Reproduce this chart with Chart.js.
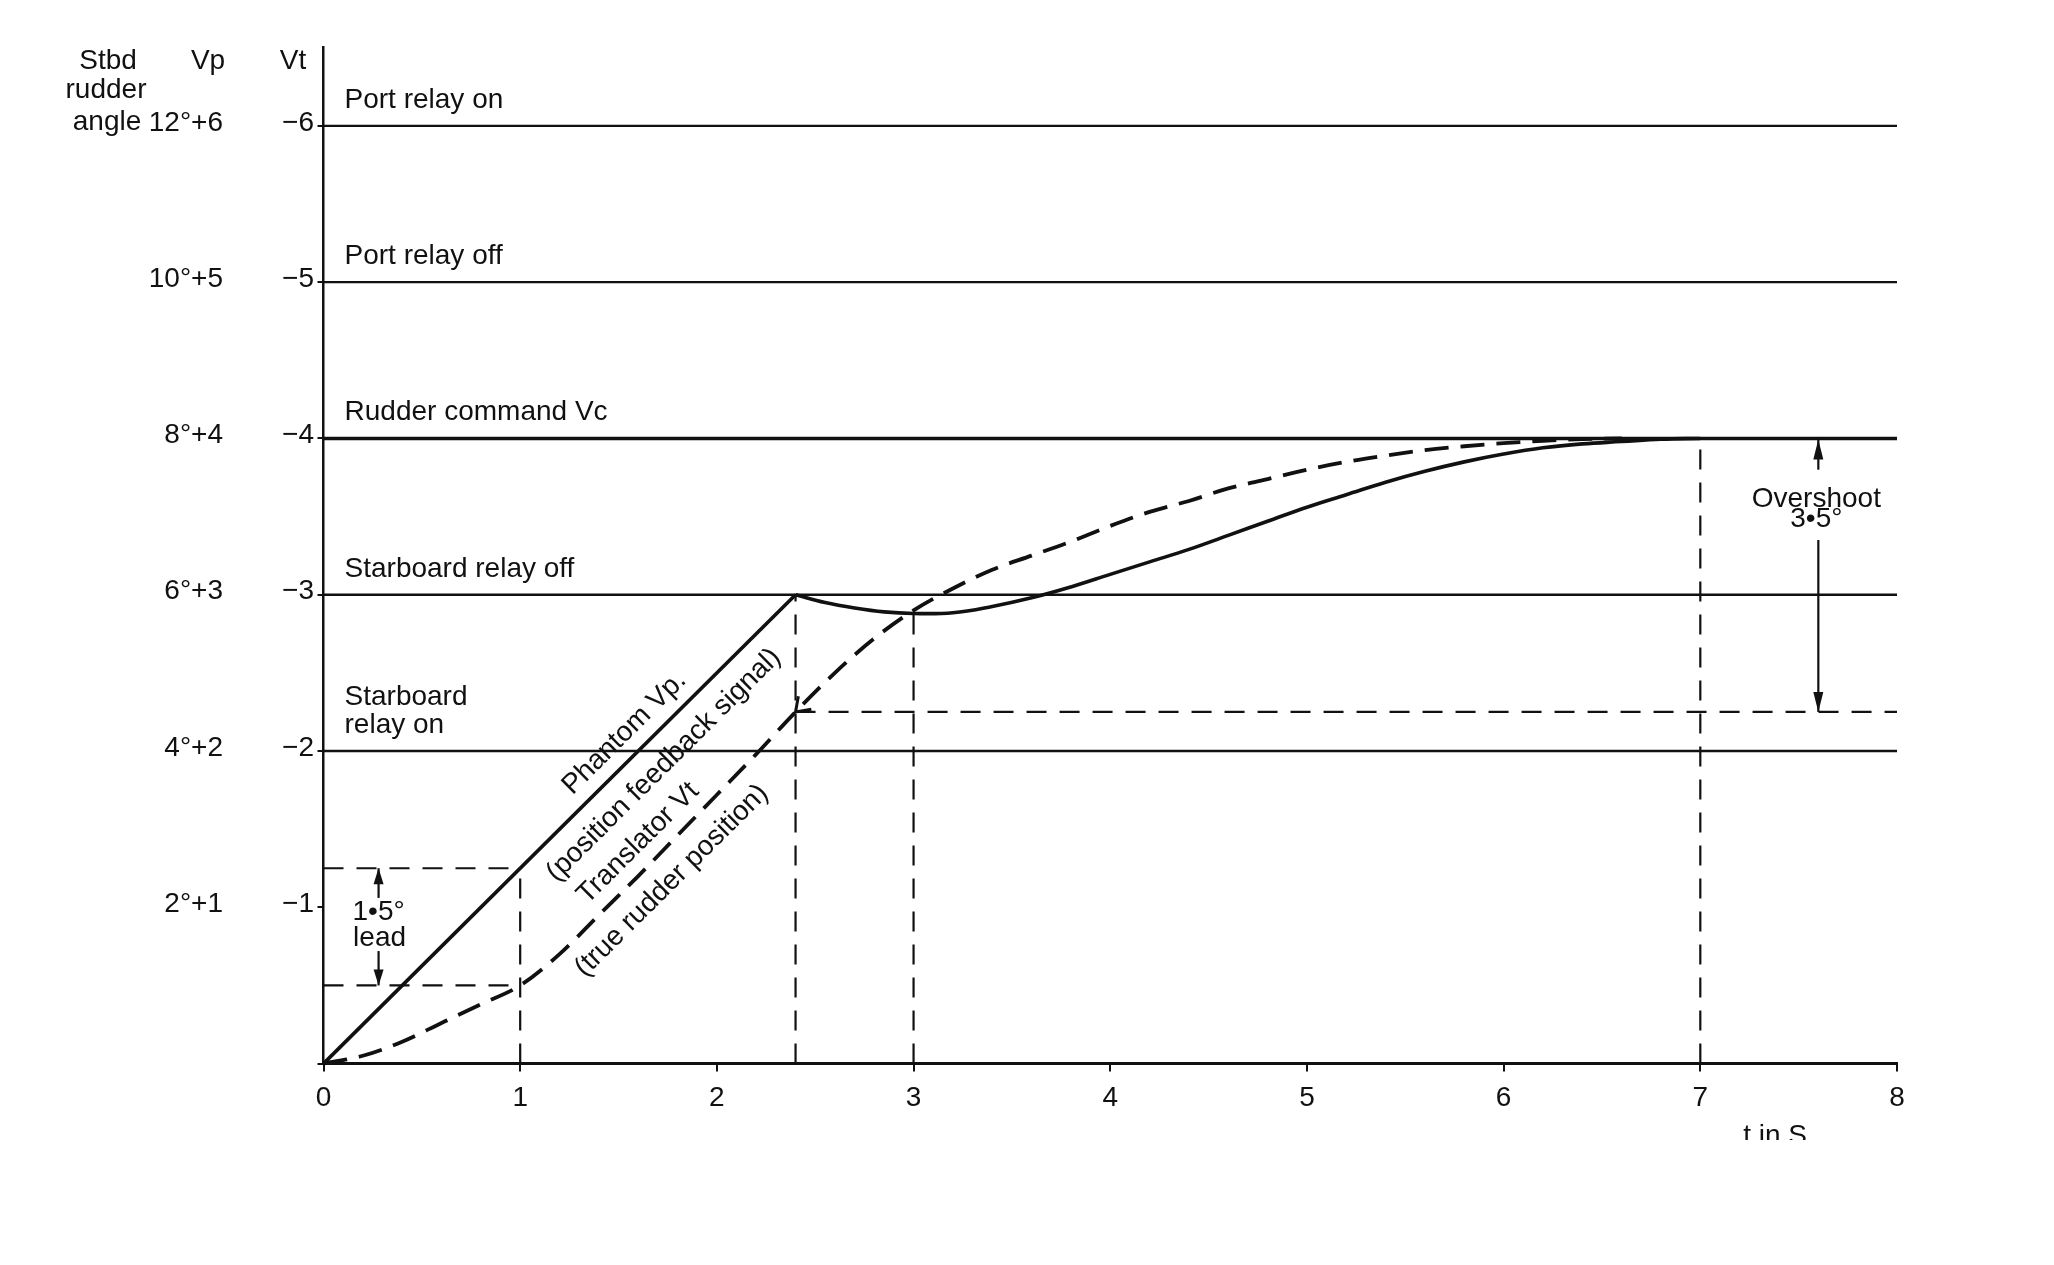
<!DOCTYPE html>
<html>
<head>
<meta charset="utf-8">
<script src="https://cdn.jsdelivr.net/npm/chart.js@4.4.1/dist/chart.umd.min.js"></script>
<style>
html,body{margin:0;padding:0;background:#fff;}
canvas{display:block;}
</style>
</head>
<body>
<canvas id="c" width="2054" height="1265"></canvas>
<script>
// ---------- data ----------
const timeTicks = [0, 1, 2, 3, 4, 5, 6, 7, 8];
const levelTicks = [0, 1, 2, 3, 4, 5, 6];
const vtTickLabels = ['', '\u22121', '\u22122', '\u22123', '\u22124', '\u22125', '\u22126'];
const angleTickLabels = ['', '2\u00B0+1', '4\u00B0+2', '6\u00B0+3', '8\u00B0+4', '10\u00B0+5', '12\u00B0+6'];

const relayLevels = [6, 5, 4, 3, 2];
const relayLabels = [['Port relay on'], ['Port relay off'], ['Rudder command Vc'], ['Starboard relay off'], ['Starboard', 'relay on']];

// Phantom Vp (position feedback signal)
const vpRampT = [0, 2.4];
const vpRampV = [0, 3.0];
const vpRecoveryT = [2.4, 2.55, 2.7, 2.85, 3.0, 3.2, 3.4, 3.6, 3.8, 4.0, 4.2, 4.4, 4.6, 4.8, 5.0, 5.2, 5.4, 5.6, 5.8, 6.0, 6.2, 6.4, 6.6, 6.8, 7.0];
const vpRecoveryV = [3.0, 2.95, 2.915, 2.89, 2.88, 2.885, 2.925, 2.98, 3.05, 3.13, 3.21, 3.29, 3.38, 3.47, 3.56, 3.64, 3.72, 3.79, 3.85, 3.90, 3.94, 3.965, 3.98, 3.995, 4.0];

// Translator Vt (true rudder position)
const vtT = [0, 0.2, 0.4, 0.6, 0.8, 1.0, 1.2, 1.4, 1.6, 1.8, 2.0, 2.2, 2.4, 2.6, 2.8, 3.0, 3.2, 3.4, 3.6, 3.8, 4.0, 4.2, 4.4, 4.6, 4.8, 5.0, 5.2, 5.4, 5.6, 5.8, 6.0, 6.2, 6.4, 6.6];
const vtV = [0, 0.05, 0.14, 0.26, 0.38, 0.5, 0.7, 0.95, 1.2, 1.46, 1.72, 1.98, 2.25, 2.5, 2.72, 2.9, 3.04, 3.16, 3.25, 3.34, 3.44, 3.53, 3.6, 3.68, 3.74, 3.8, 3.85, 3.89, 3.925, 3.95, 3.97, 3.985, 3.995, 4.0];

// construction (dashed) lines
const refVertT = [1, 2.4, 3, 7];
const refVertTop = [1.25, 3.0, 2.88, 4.0];
const refHorizV = [1.25, 0.5, 2.25];
const refHorizFrom = [0, 0, 2.4];
const refHorizTo = [1, 1, 8];

const leadDegrees = '1\u20225\u00B0';
const overshootDegrees = '3\u20225\u00B0';

// ---------- chart ----------
const FONT = '"Liberation Sans", Arial, Helvetica, sans-serif';
const INK = '#111';
const pts = (ts, vs) => ts.map((t, i) => ({ x: t, y: vs[i] }));

const datasets = [];
relayLevels.forEach(lv => datasets.push({
  data: [{ x: 0, y: lv }, { x: 8, y: lv }],
  borderColor: INK, borderWidth: lv === 4 ? 3.5 : 2.4
}));
refVertT.forEach((t, i) => datasets.push({
  data: [{ x: t, y: 0 }, { x: t, y: refVertTop[i] }],
  borderColor: INK, borderWidth: 2.2, borderDash: [20, 13]
}));
refHorizV.forEach((v, i) => datasets.push({
  data: [{ x: refHorizFrom[i], y: v }, { x: refHorizTo[i], y: v }],
  borderColor: INK, borderWidth: 2.2, borderDash: [20, 13]
}));
datasets.push({ data: pts(vpRampT, vpRampV), borderColor: INK, borderWidth: 3.6 });
datasets.push({ data: pts(vpRecoveryT, vpRecoveryV), borderColor: INK, borderWidth: 3.6, tension: 0.4 });
datasets.push({ data: pts(vtT, vtV), borderColor: INK, borderWidth: 3.8, borderDash: [24, 12], cubicInterpolationMode: 'monotone' });

datasets.forEach(d => { d.showLine = true; d.pointRadius = 0; d.fill = false; d.clip = false; });

function arrowHead(ctx, x, y, ang, len, half) {
  ctx.beginPath();
  ctx.moveTo(x, y);
  ctx.lineTo(x - len * Math.cos(ang) + half * Math.sin(ang), y - len * Math.sin(ang) - half * Math.cos(ang));
  ctx.lineTo(x - len * Math.cos(ang) - half * Math.sin(ang), y - len * Math.sin(ang) + half * Math.cos(ang));
  ctx.closePath();
  ctx.fill();
}

const annotations = {
  id: 'annotations',
  afterDraw(chart) {
    const { ctx, scales } = chart;
    const x = scales.x, y = scales.y;
    const X = v => x.getPixelForValue(v), Y = v => y.getPixelForValue(v);
    ctx.save();
    ctx.fillStyle = INK; ctx.strokeStyle = INK;
    ctx.font = '28px ' + FONT;

    // relay line labels
    ctx.textAlign = 'left'; ctx.textBaseline = 'alphabetic';
    relayLevels.forEach((lv, i) => {
      const lines = relayLabels[i];
      lines.forEach((s, j) => {
        ctx.fillText(s, X(0.107), Y(lv) - 18 - (lines.length - 1 - j) * 28.5);
      });
    });

    // rotated curve labels
    const ang = Math.atan2(Y(3) - Y(0), X(2.4) - X(0));
    const rot = [['Phantom Vp.', 1.53, 2.115], ['(position feedback signal)', 1.73, 1.91],
                 ['Translator Vt', 1.60, 1.41], ['(true rudder position)', 1.77, 1.17]];
    ctx.textAlign = 'center'; ctx.textBaseline = 'middle';
    rot.forEach(([s, t, v]) => {
      ctx.save(); ctx.translate(X(t), Y(v)); ctx.rotate(ang); ctx.fillText(s, 0, 0); ctx.restore();
    });

    // lead dimension
    ctx.lineWidth = 2.2;
    const lt = X(0.28);
    ctx.beginPath(); ctx.moveTo(lt, Y(1.06)); ctx.lineTo(lt, Y(1.25)); ctx.stroke();
    arrowHead(ctx, lt, Y(1.25), -Math.PI / 2, 16, 5);
    ctx.beginPath(); ctx.moveTo(lt, Y(0.72)); ctx.lineTo(lt, Y(0.5)); ctx.stroke();
    arrowHead(ctx, lt, Y(0.5), Math.PI / 2, 16, 5);
    ctx.fillText(leadDegrees, X(0.28), Y(0.965));
    ctx.fillText('lead', X(0.285), Y(0.8));

    // overshoot dimension
    const ot = X(7.6);
    ctx.beginPath(); ctx.moveTo(ot, Y(3.8)); ctx.lineTo(ot, Y(4.0)); ctx.stroke();
    arrowHead(ctx, ot, Y(4.0) + 1, -Math.PI / 2, 20, 5);
    ctx.beginPath(); ctx.moveTo(ot, Y(3.35)); ctx.lineTo(ot, Y(2.25)); ctx.stroke();
    arrowHead(ctx, ot, Y(2.25), Math.PI / 2, 20, 5);
    ctx.fillText('Overshoot', X(7.59), Y(3.61));
    ctx.fillText(overshootDegrees, X(7.59), Y(3.48));

    // small open arrow at Vt (2.4, 2.25)
    ctx.lineWidth = 3;
    const ax = X(2.4), ay = Y(2.25);
    ctx.beginPath();
    ctx.moveTo(ax + 16 * Math.cos(-80 * Math.PI / 180), ay + 16 * Math.sin(-80 * Math.PI / 180));
    ctx.lineTo(ax, ay);
    ctx.lineTo(ax + 16 * Math.cos(-10 * Math.PI / 180), ay + 16 * Math.sin(-10 * Math.PI / 180));
    ctx.stroke();

    // axis headers
    const top = chart.chartArea.top;
    ctx.textAlign = 'center'; ctx.textBaseline = 'middle';
    ctx.fillText('Stbd', 108, top + 14);
    ctx.fillText('rudder', 106, top + 43);
    ctx.fillText('angle', 107, Y(6) - 4);
    ctx.fillText('Vp', 208, top + 14);
    ctx.fillText('Vt', 293, top + 14);

    // x axis title (clipped at the bottom like the source)
    ctx.save();
    ctx.beginPath(); ctx.rect(0, 0, chart.width, 1140); ctx.clip();
    ctx.textBaseline = 'alphabetic';
    ctx.fillText('t in S', X(7.38), 1144);
    ctx.restore();

    ctx.restore();
  }
};

new Chart(document.getElementById('c'), {
  type: 'scatter',
  data: { datasets },
  plugins: [annotations],
  options: {
    responsive: false,
    animation: false,
    devicePixelRatio: 1,
    layout: { padding: { top: 47.7, right: 157, bottom: 0, left: 0 } },
    plugins: { legend: { display: false }, tooltip: { enabled: false } },
    elements: { line: { borderCapStyle: 'butt' } },
    scales: {
      x: {
        type: 'linear', position: 'bottom', min: 0, max: 8,
        afterBuildTicks: s => { s.ticks = timeTicks.map(v => ({ value: v })); },
        afterFit: s => { s.height = 1265 - 1063.6; },
        ticks: { color: INK, font: { family: FONT, size: 28 }, padding: 10, maxRotation: 0, callback: v => String(v) },
        grid: { drawOnChartArea: false, drawTicks: true, tickLength: 8, color: INK, lineWidth: 2 },
        border: { display: true, color: INK, width: 3 }
      },
      y: {
        type: 'linear', position: 'left', min: 0, max: 6.5, weight: 0,
        afterBuildTicks: s => { s.ticks = levelTicks.map(v => ({ value: v })); },
        afterFit: s => { s.width = 91.5; },
        ticks: { color: INK, font: { family: FONT, size: 28 }, padding: 3.5, labelOffset: -3, callback: (v, i) => vtTickLabels[i] },
        grid: { drawOnChartArea: false, drawTicks: true, tickLength: 6, color: INK, lineWidth: 2 },
        border: { display: true, color: INK, width: 2.5 }
      },
      yAngle: {
        type: 'linear', position: 'left', min: 0, max: 6.5, weight: 1,
        afterBuildTicks: s => { s.ticks = levelTicks.map(v => ({ value: v })); },
        afterFit: s => { s.width = 232; },
        ticks: { color: INK, font: { family: FONT, size: 28 }, padding: 9, labelOffset: -3, callback: (v, i) => angleTickLabels[i] },
        grid: { display: false, drawTicks: false },
        border: { display: false }
      }
    }
  }
});
</script>
</body>
</html>
